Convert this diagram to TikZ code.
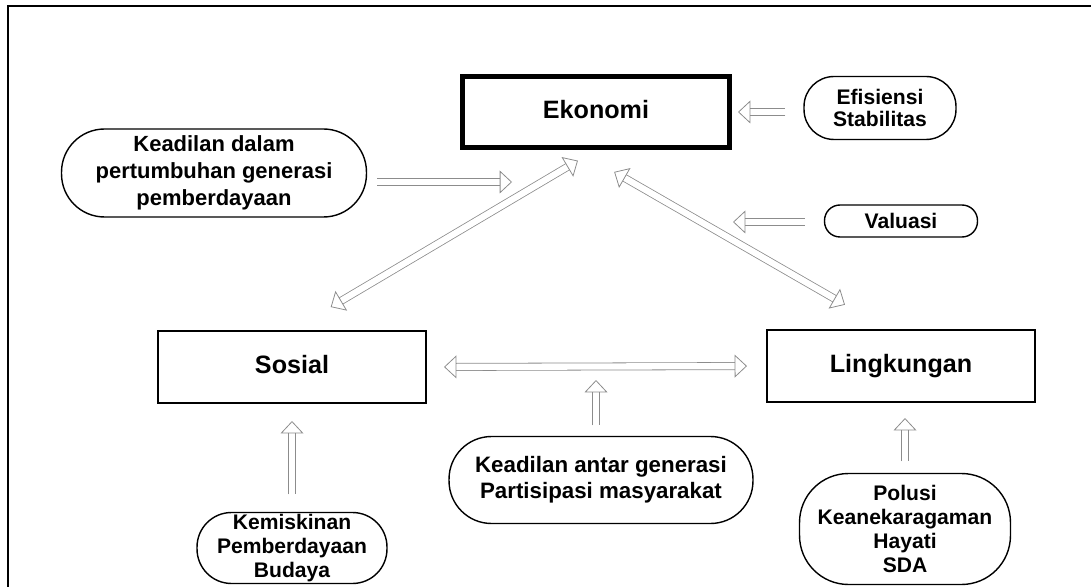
\documentclass[tikz,border=0pt]{standalone}
\usepackage{fontspec}
\setmainfont{Liberation Sans}
\usetikzlibrary{positioning, arrows.meta}
\definecolor{arrowGrey}{HTML}{8C8C8C}

\begin{document}
\begin{tikzpicture}[x=0.02cm, y=-0.02cm,
    pillar/.style={draw, line width=1.2pt, minimum width=5.36cm, minimum height=1.44cm,
                   text height=0.72em, text depth=0pt,
                   font=\fontsize{14.3}{17}\selectfont\bfseries},
    tag/.style={draw, line width=0.8pt, align=center, inner sep=0pt,
                font=\fontsize{12}{13.8}\selectfont\bfseries},
    hollow/.style={draw=arrowGrey, line width=0.45pt, double=white, double distance=3.6pt,
                   -{Triangle[open, length=7pt, width=13pt]}},
    hollow2/.style={hollow, {Triangle[open, length=7pt, width=13pt]}-{Triangle[open, length=7pt, width=13pt]}}]
    \useasboundingbox (0,0) rectangle (1091,587);
    \draw[line width=1.2pt] (1091,6) -- (8,6) -- (8,587);

    % the three pillars
    \node[pillar, line width=2.8pt, minimum width=5.34cm, minimum height=1.42cm] (ek) at (596,112) {Ekonomi};
    \node[pillar] (so) at (292,367) {Sosial};
    \node[pillar] (lk) at (901,366) {Lingkungan};

    % what feeds each of them
    \node[tag, font=\fontsize{12.5}{15.3}\selectfont\bfseries, minimum width=6.1cm,
          minimum height=1.76cm, rounded corners=0.86cm] (kd) at (214,173)
      {Keadilan dalam\\pertumbuhan generasi\\pemberdayaan};
    \node[tag, font=\fontsize{12}{13}\selectfont\bfseries, minimum width=3.04cm,
          minimum height=1.26cm, rounded corners=0.6cm] (ef) at (880,108)
      {Efisiensi\\Stabilitas};
    \node[tag, minimum width=3.06cm, minimum height=0.64cm, rounded corners=0.31cm] (va) at (901,221)
      {Valuasi};
    \node[tag, font=\fontsize{12.7}{14.8}\selectfont\bfseries, minimum width=6.08cm,
          minimum height=1.74cm, rounded corners=0.85cm] (ka) at (601,480)
      {Keadilan antar generasi\\Partisipasi masyarakat};
    \node[tag, minimum width=3.8cm, minimum height=1.42cm, rounded corners=0.69cm] (km) at (292,548)
      {Kemiskinan\\Pemberdayaan\\Budaya};
    \node[tag, minimum width=4.22cm, minimum height=2.22cm, rounded corners=0.98cm] (po) at (905,529)
      {Polusi\\Keanekaragaman\\Hayati\\SDA};

    \coordinate (kdEnd) at (512,182);
    \coordinate (efEnd) at (738,112);
    \coordinate (vaEnd) at (733,222);
    \coordinate (kaEnd) at (596,380);

    % links between the pillars
    \draw[hollow2, shorten <=0.9cm, shorten >=0.42cm] (so.north) -- (ek.south);
    \draw[hollow2, shorten <=0.88cm, shorten >=0.97cm] ([xshift=-0.4cm]ek.south) -- ([xshift=-0.28cm]lk.north);
    \draw[hollow2, shorten <=0.34cm, shorten >=0.38cm] (so.east) -- (lk.west);

    % single arrows
    \draw[hollow, shorten <=0.2cm] (kd.east |- kdEnd) -- (kdEnd);
    \draw[hollow, shorten <=0.36cm] (ef.west |- efEnd) -- (efEnd);
    \draw[hollow, shorten <=0.38cm] (va.west |- vaEnd) -- (vaEnd);
    \draw[hollow, shorten <=0.21cm] (ka.north -| kaEnd) -- (kaEnd);
    \draw[hollow, shorten <=0.35cm, shorten >=0.34cm] (km.north) -- (so.south);
    \draw[hollow, shorten <=0.23cm, shorten >=0.3cm] (po.north) -- (po.north |- lk.south);
\end{tikzpicture}
\end{document}
